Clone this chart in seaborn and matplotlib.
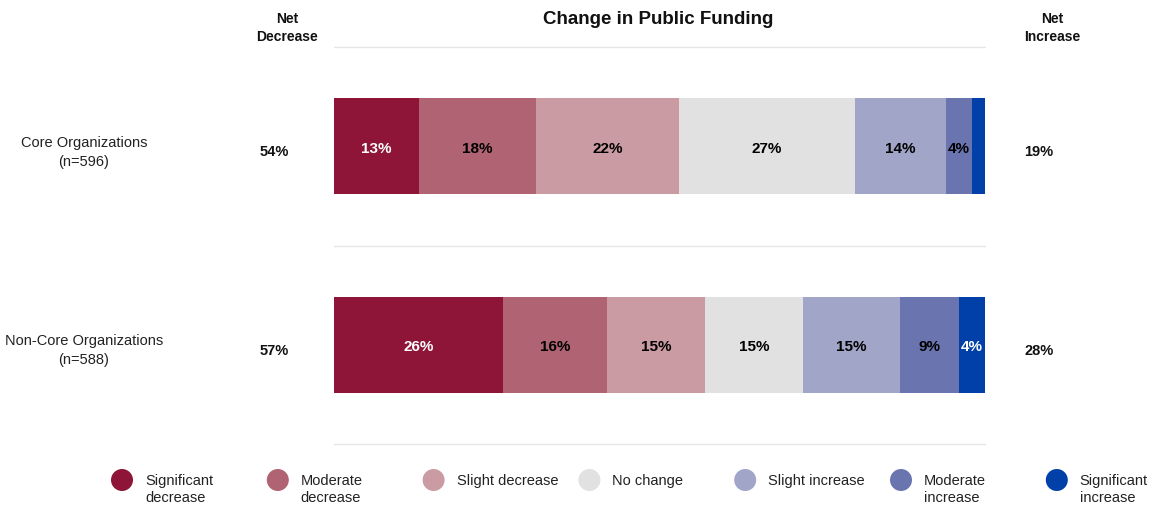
import matplotlib
matplotlib.use("Agg")
import matplotlib.pyplot as plt
import seaborn as sns
import pandas as pd
import numpy as np

# Survey responses: change in public funding, share of organizations (%)
groups = ["Core Organizations\n(n=596)", "Non-Core Organizations\n(n=588)"]
levels = ["Significant\ndecrease", "Moderate\ndecrease", "Slight decrease", "No change",
          "Slight increase", "Moderate\nincrease", "Significant\nincrease"]
core = [13, 18, 22, 27, 14, 4, 2]
non_core = [26, 16, 15, 15, 15, 9, 4]
net_decrease = [54, 57]
net_increase = [19, 28]
colors = ["#8E1538", "#B06473", "#CB9BA3", "#E1E1E1", "#A1A5C8", "#6A75B0", "#0040A8"]
label_colors = ["white", "black", "black", "black", "black", "black", "white"]
min_label = 3  # segments narrower than this stay unlabeled

sns.set_theme(style="white")
plt.rcParams["font.family"] = ["Liberation Sans", "DejaVu Sans"]

W, H = 1156, 508
fig = plt.figure(figsize=(W / 100, H / 100), dpi=100)
ax = fig.add_axes([334 / W, 1 - 444 / H, 651 / W, 397 / H])

df = pd.DataFrame([core, non_core], columns=levels)
df.insert(0, "group", groups)
cum = df[levels].cumsum(axis=1)

# stacked bars: draw cumulative totals from the right so each layer covers the next
for k in range(len(levels) - 1, -1, -1):
    sns.barplot(x=cum[levels[k]], y=df["group"], orient="h", color=colors[k],
                width=0.485, saturation=1, ax=ax, linewidth=0)

for i in range(len(groups)):
    vals = df.loc[i, levels].values
    starts = np.concatenate([[0], np.cumsum(vals)[:-1]])
    for k, (v, s) in enumerate(zip(vals, starts)):
        if v >= min_label:
            ax.text(s + v / 2, i + 0.012, f"{v}%", ha="center", va="center",
                    color=label_colors[k], fontsize=11, fontweight="bold")

ax.set_xlim(0, 100)
ax.set_ylim(1.5, -0.5)
for yv in (-0.5, 0.5, 1.5):
    ax.axhline(yv, color="#E6E6E6", lw=1, zorder=0, clip_on=False)
ax.set_xticks([])
ax.set_yticks([])
ax.set_xlabel("")
ax.set_ylabel("")
sns.despine(ax=ax, left=True, bottom=True)

trans = matplotlib.transforms.blended_transform_factory(ax.transAxes, ax.transData)
for i, g in enumerate(groups):
    ax.text((84 - 334) / 651, i + 0.03, g, transform=trans, ha="center", va="center",
            fontsize=10.5, color="#222222", linespacing=1.45)
    ax.text((274 - 334) / 651, i + 0.03, f"{net_decrease[i]}%", transform=trans,
            ha="center", va="center", fontsize=10.5, fontweight="bold", color="#111111")
    ax.text((1039 - 334) / 651, i + 0.03, f"{net_increase[i]}%", transform=trans,
            ha="center", va="center", fontsize=10.5, fontweight="bold", color="#111111")

fig.text(658 / W, 1 - 19 / H, "Change in Public Funding", ha="center", va="center",
         fontsize=13.5, fontweight="bold", color="#111111")
fig.text(287 / W, 1 - 28 / H, "Net\nDecrease", ha="center", va="center",
         fontsize=10, fontweight="bold", color="#111111", linespacing=1.35)
fig.text(1052 / W, 1 - 28 / H, "Net\nIncrease", ha="center", va="center",
         fontsize=10, fontweight="bold", color="#111111", linespacing=1.35)

# legend row with evenly spaced entries
leg_y = 1 - 480 / H
for k, (lab, c) in enumerate(zip(levels, colors)):
    x0 = 122 + k * 155.8
    fig.add_artist(matplotlib.patches.Ellipse((x0 / W, leg_y), 22 / W, 22 / H,
                                              transform=fig.transFigure, color=c, lw=0))
    fig.text((x0 + 23) / W, 1 - 474 / H, lab, ha="left", va="top", fontsize=10.5,
             color="#222222", linespacing=1.3)

fig.savefig("out.png", dpi=100)
